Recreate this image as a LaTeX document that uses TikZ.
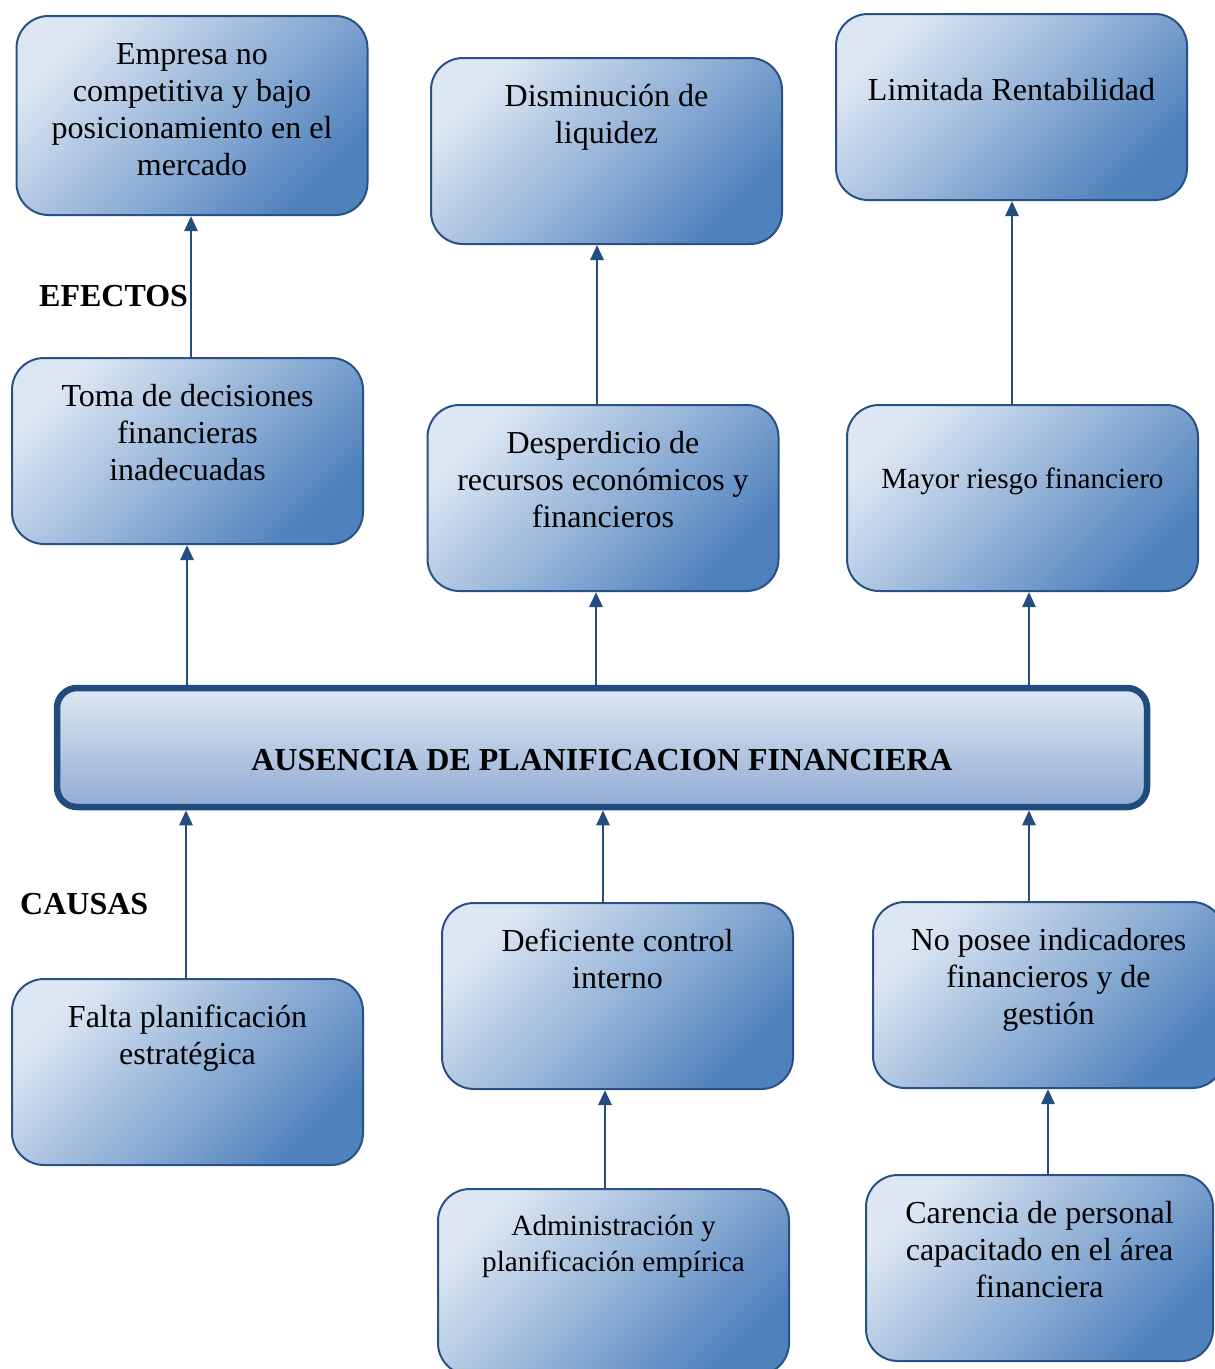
\documentclass[tikz,border=0pt]{standalone}
\usepackage{fontspec}
\setmainfont{Liberation Serif}
\usetikzlibrary{arrows.meta}
\definecolor{lightb}{RGB}{221,231,243}
\definecolor{darkb}{RGB}{79,129,189}
\definecolor{midb}{RGB}{146,172,212}
\definecolor{bord}{RGB}{40,82,134}
\definecolor{cbord}{RGB}{31,75,125}
\definecolor{arrc}{RGB}{36,78,130}
\newcommand{\boxtxt}[5]{\parbox[c][#1][t]{345pt}{\centering\fontsize{#2}{#3}\selectfont\vspace*{#4}\strut #5}}
\tikzset{
  box/.style={draw=bord, line width=2pt, rounded corners=32pt, inner sep=0pt,
    minimum width=351pt, minimum height=186pt,
    top color=lightb, bottom color=darkb, shading angle=45},
  cbox/.style={draw=cbord, line width=6.5pt, rounded corners=20pt, inner sep=0pt,
    minimum width=1090pt, minimum height=119pt,
    top color=lightb, bottom color=midb},
  arr/.style={draw=arrc, line width=2.8pt, -{Triangle[width=13pt,length=15pt]}},
  lbl/.style={font=\fontsize{32}{37}\selectfont\bfseries, anchor=base west, inner sep=0pt}
}
\begin{document}
\begin{tikzpicture}[x=1pt,y=-1pt]
\useasboundingbox (0,0) rectangle (1215,1369);
% effects
\node[box, minimum height=199pt] (empresa) at (192,115.5) {\boxtxt{199pt}{32}{37}{23pt}{Empresa no\\competitiva y bajo\\posicionamiento en el\\mercado}};
\node[box] (dismin) at (606.5,151) {\boxtxt{186pt}{32}{37}{23pt}{Disminución de\\liquidez}};
\node[box] (limitada) at (1011.5,107) {\boxtxt{186pt}{32}{37}{61pt}{Limitada Rentabilidad}};
\node[box] (toma) at (187.5,451) {\boxtxt{186pt}{32}{37}{23pt}{Toma de decisiones\\financieras\\inadecuadas}};
\node[box] (desp) at (603,498) {\boxtxt{186pt}{32}{37}{23pt}{Desperdicio de\\recursos económicos y\\financieros}};
\node[box] (mayor) at (1022.5,498) {\boxtxt{186pt}{29.2}{37}{58pt}{Mayor riesgo financiero}};
% central
\node[cbox] (central) at (602,747.5) {\raisebox{-23pt}[0pt][0pt]{\fontsize{32}{37}\selectfont\bfseries AUSENCIA DE PLANIFICACION FINANCIERA}};
% causes
\node[box] (falta) at (187.5,1072) {\boxtxt{186pt}{32}{37}{23pt}{Falta planificación\\estratégica}};
\node[box] (defic) at (617.5,996) {\boxtxt{186pt}{32}{37}{23pt}{Deficiente control\\interno}};
\node[box] (noposee) at (1048.5,995) {\boxtxt{186pt}{32}{37}{23pt}{No posee indicadores\\financieros y de\\gestión}};
\node[box] (admin) at (613.5,1282) {\boxtxt{186pt}{29.3}{36}{21pt}{Administración y\\planificación empírica}};
\node[box, minimum width=347pt] (carencia) at (1039.5,1268) {\boxtxt{186pt}{32}{37}{23pt}{Carencia de personal\\capacitado en el área\\financiera}};
% labels
\node[lbl] (efectos) at (39,306) {EFECTOS};
\node[lbl] (causas) at (20,914) {CAUSAS};
% arrows
\draw[arr] ([xshift=3.5pt]toma.north) -- ([xshift=-1pt]empresa.south);
\draw[arr] ([xshift=-6pt]desp.north) -- ([xshift=-9.5pt]dismin.south);
\draw[arr] ([xshift=-10.5pt]mayor.north) -- ([xshift=0.5pt]limitada.south);
\draw[arr] ([xshift=-415pt]central.north) -- ([xshift=-0.5pt]toma.south);
\draw[arr] ([xshift=-6pt]central.north) -- ([xshift=-7pt]desp.south);
\draw[arr] ([xshift=427pt]central.north) -- ([xshift=6.5pt]mayor.south);
\draw[arr] ([xshift=-1.5pt]falta.north) -- ([xshift=-416pt]central.south);
\draw[arr] ([xshift=-14.5pt]defic.north) -- ([xshift=1pt]central.south);
\draw[arr] ([xshift=-19.5pt]noposee.north) -- ([xshift=427pt]central.south);
\draw[arr] ([xshift=-8.5pt]admin.north) -- ([xshift=-12.5pt]defic.south);
\draw[arr] ([xshift=8.5pt]carencia.north) -- ([xshift=-0.5pt]noposee.south);
\end{tikzpicture}
\end{document}
